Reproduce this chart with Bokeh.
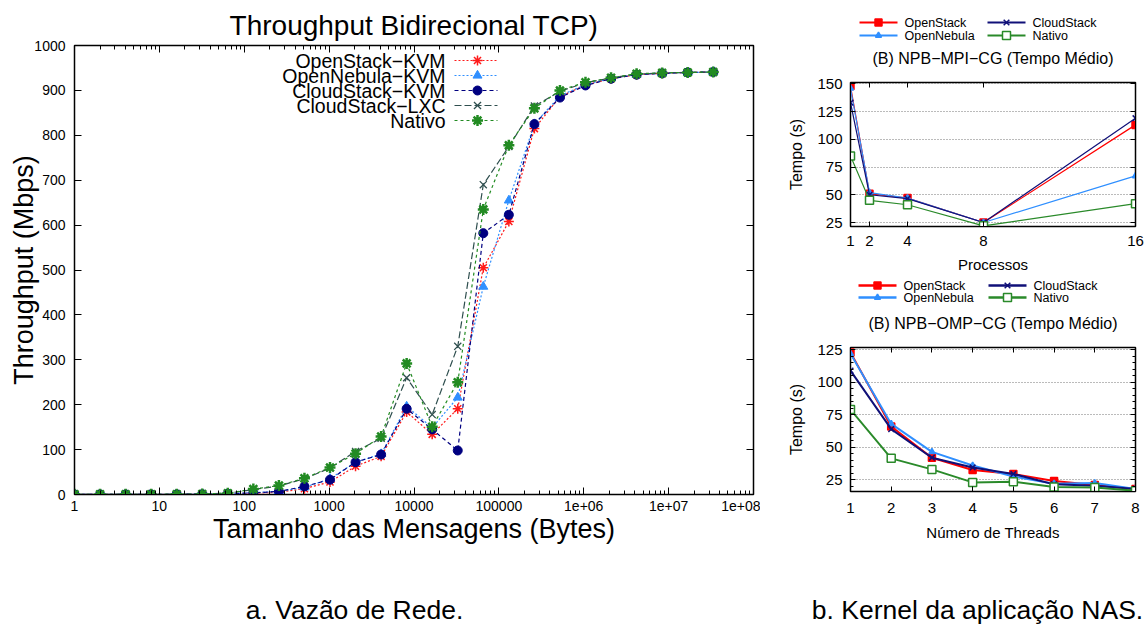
from bokeh.plotting import figure
from bokeh.models import (FixedTicker, LogAxis, LinearAxis, Range1d, LinearScale, Label)
from bokeh.layouts import row, column
from bokeh.embed import file_html
from bokeh.resources import INLINE
from bokeh.core.properties import value

FONT = "Liberation Sans"

# ---------------- data: (a) throughput ----------------
msg_sizes = [1, 2, 4, 8, 16, 32, 64, 128, 256, 512, 1024, 2048, 4096, 8192, 16384,
             32768, 65536, 131072, 262144, 524288, 1048576, 2097152, 4194304,
             8388608, 16777216, 33554432]
openstack_kvm = [0.3, 0.3, 0.3, 0.4, 0.5, 0.8, 1.5, 3, 5, 13, 28, 63, 85, 184, 134,
                 191, 505, 608, 815, 886, 912, 926, 935, 938, 940, 941]
opennebula_kvm = [0.3, 0.3, 0.3, 0.4, 0.5, 0.8, 1.8, 4, 7, 16, 35, 72, 90, 196, 149,
                  216, 463, 655, 825, 888, 913, 927, 935, 938, 940, 941]
cloudstack_kvm = [0.3, 0.3, 0.3, 0.4, 0.5, 0.8, 1.8, 3.5, 7, 18, 33, 72, 89, 191, 145,
                  98, 582, 623, 825, 884, 911, 926, 935, 938, 940, 941]
cloudstack_lxc = [0.4, 0.4, 0.4, 0.5, 0.7, 1.2, 3, 11, 19, 35, 59, 96, 125, 260, 178,
                  330, 690, 775, 865, 898, 917, 928, 936, 939, 940, 941]
nativo_tp = [0.4, 0.4, 0.4, 0.5, 0.7, 1.2, 3, 12, 20, 36, 60, 91, 129, 292, 151,
             250, 635, 778, 860, 900, 918, 928, 937, 939, 940, 941]
tp_names = ["OpenStack−KVM", "OpenNebula−KVM", "CloudStack−KVM", "CloudStack−LXC", "Nativo"]
x_tick_values = [1, 10, 100, 1000, 10000, 100000, 1000000, 10000000, 100000000]
x_tick_labels = ["1", "10", "100", "1000", "10000", "100000", "1e+06", "1e+07", "1e+08"]
x_minor_values = [m * d for d in x_tick_values[:-1] for m in range(2, 10)]
y_tick_values_tp = [0, 100, 200, 300, 400, 500, 600, 700, 800, 900, 1000]

# ---------------- data: (b) NAS kernel ----------------
processes = [1, 2, 4, 8, 16]
mpi_openstack = [148, 51, 47, 25, 113]
mpi_opennebula = [146, 52, 47, 25, 67]
mpi_cloudstack = [133, 50, 46.5, 25, 119]
mpi_nativo = [85, 45, 41, 22, 42]

threads = [1, 2, 3, 4, 5, 6, 7, 8]
omp_openstack = [123, 66, 42, 32.5, 29.5, 24, 21, 18]
omp_opennebula = [122, 68, 46.5, 36, 27.5, 22, 22.5, 18]
omp_cloudstack = [109, 64, 42, 34.5, 29.5, 21.5, 20.5, 18]
omp_nativo = [79, 41.5, 33, 23, 23.5, 19.5, 19, 16.5]
nas_names = ["OpenStack", "OpenNebula", "CloudStack", "Nativo"]
nas_titles = ["(B) NPB−MPI−CG (Tempo Médio)", "(B) NPB−OMP−CG (Tempo Médio)"]

captions = ["a. Vazão de Rede.", "b. Kernel da aplicação NAS."]

RB_LEFT, RB_RIGHT, RB_W = 90, 11, 386   # right-column figure borders / width
RB_FRAME = RB_W - RB_LEFT - RB_RIGHT


def style_axis(ax, size, tick_in=6, minor_in=3):
    ax.major_label_text_font = FONT
    ax.major_label_text_font_size = size
    ax.major_label_text_color = "black"
    ax.axis_line_color = "black"
    ax.axis_line_width = 1
    ax.major_tick_in = tick_in
    ax.major_tick_out = 0
    ax.minor_tick_in = minor_in
    ax.minor_tick_out = 0
    ax.major_tick_line_color = "black"
    ax.minor_tick_line_color = "black"
    ax.axis_label_text_font = FONT
    ax.axis_label_text_font_style = "normal"
    ax.axis_label_text_color = "black"


def mirror(p, side, ax, tick_in=6, minor_in=3):
    style_axis(ax, "0px", tick_in, minor_in)
    ax.major_label_standoff = 0
    ax.major_label_text_alpha = 0
    p.add_layout(ax, side)


# ================= left figure =================
p1 = figure(width=760, height=548, x_axis_type="log",
            x_range=Range1d(1, 1e8), y_range=Range1d(0, 1000),
            output_backend="svg", toolbar_location=None,
            min_border_left=74, min_border_right=7, min_border_top=45,
            min_border_bottom=54)
p1.title.text = "Throughput Bidirecional TCP)"
p1.title.align = "center"
p1.title.text_font = FONT
p1.title.text_font_size = "28px"
p1.title.text_font_style = "normal"
p1.title.text_color = "black"
p1.title.standoff = 10
p1.xgrid.visible = False
p1.ygrid.visible = False
p1.outline_line_color = "black"
p1.outline_line_width = 1.5
p1.background_fill_color = "white"

p1.xaxis.ticker = FixedTicker(ticks=x_tick_values, minor_ticks=x_minor_values)
p1.yaxis.ticker = FixedTicker(ticks=y_tick_values_tp)
style_axis(p1.xaxis[0], "14px", 7, 4)
style_axis(p1.yaxis[0], "14px", 7, 4)
p1.xaxis.major_label_overrides = {v: l for v, l in zip(x_tick_values, x_tick_labels)}
p1.xaxis.axis_label = "Tamanho das Mensagens (Bytes)"
p1.yaxis.axis_label = "Throughput (Mbps)"
p1.xaxis.axis_label_text_font_size = "27px"
p1.yaxis.axis_label_text_font_size = "27px"
p1.xaxis.major_label_standoff = 6
p1.yaxis.major_label_standoff = 9
p1.xaxis.axis_label_standoff = 0
p1.yaxis.axis_label_standoff = -8
mirror(p1, "above", LogAxis(ticker=FixedTicker(ticks=x_tick_values, minor_ticks=x_minor_values)), 7, 4)
mirror(p1, "right", LinearAxis(ticker=FixedTicker(ticks=y_tick_values_tp)), 7, 4)

tp_series = [openstack_kvm, opennebula_kvm, cloudstack_kvm, cloudstack_lxc, nativo_tp]
tp_styles = [
    dict(color="#ff1a1a", dash="2 2", marker="asterisk", size=10, mlw=1.5),
    dict(color="#2f8fff", dash="2 2", marker="triangle", size=9, mlw=1),
    dict(color="#000080", dash="4 3", marker="circle", size=9, mlw=1),
    dict(color="#2f4f4f", dash="7 3", marker="x", size=10, mlw=1.3),
    dict(color="#228b22", dash="3 3", marker="asterisk", size=11, mlw=2.5),
]
for ys, st in zip(tp_series, tp_styles):
    p1.line(msg_sizes, ys, line_color=st["color"], line_dash=st["dash"], line_width=1.2)
    p1.scatter(msg_sizes, ys, marker=st["marker"], size=st["size"],
               line_color=st["color"], fill_color=st["color"], line_width=st["mlw"])

# gnuplot-style key (label left, sample right) in frame-pixel coordinates
p1.extra_x_ranges = {"leg": Range1d(0, 679)}
p1.extra_y_ranges = {"leg": Range1d(0, 449)}
p1.extra_x_scales = {"leg": LinearScale()}
p1.extra_y_scales = {"leg": LinearScale()}
key_text_x = 371
key_x0, key_x1, key_xm = 380, 423, 403
for i, (name, st) in enumerate(zip(tp_names, tp_styles)):
    ky = 434 - 15 * i
    p1.text(x=[key_text_x], y=[ky], text=[name], text_align="right",
            text_baseline="middle", text_font=value(FONT), text_font_size="19.5px",
            text_color="black", x_range_name="leg", y_range_name="leg")
    p1.line(x=[key_x0, key_x1], y=[ky, ky], line_color=st["color"], line_dash=st["dash"],
            line_width=1.2, x_range_name="leg", y_range_name="leg")
    p1.scatter(x=[key_xm], y=[ky], marker=st["marker"], size=st["size"],
               line_color=st["color"], fill_color=st["color"], line_width=st["mlw"],
               x_range_name="leg", y_range_name="leg")


# ================= right figures =================
nas_styles = [
    dict(color="#ff0000", marker="square", fill="#ff0000", size=7),
    dict(color="#2f8fff", marker="triangle", fill="#2f8fff", size=6),
    dict(color="#101078", marker="x", fill="#101078", size=8),
    dict(color="#2a8a2a", marker="square", fill="white", size=8),
]


def nas_header(height, title, col_x, row_y, title_y, lw):
    """Strip above a NAS chart: two-column key and the chart title (frame-pixel units)."""
    f = figure(width=RB_W, height=height, x_range=Range1d(0, RB_FRAME),
               y_range=Range1d(0, height), output_backend="svg", toolbar_location=None,
               min_border_left=RB_LEFT, min_border_right=RB_RIGHT, min_border_top=0,
               min_border_bottom=0, x_axis_location=None, y_axis_location=None)
    f.xgrid.visible = False
    f.ygrid.visible = False
    f.outline_line_color = None
    slots = [(0, 0), (0, 1), (1, 0), (1, 1)]  # (column, row)
    for name, st, (c, r) in zip(nas_names, nas_styles, slots):
        x0 = col_x[c]
        y = row_y[r]
        f.line(x=[x0, x0 + 38], y=[y, y], line_color=st["color"], line_width=lw)
        f.scatter(x=[x0 + 19], y=[y], marker=st["marker"], size=st["size"],
                  line_color=st["color"], fill_color=st["fill"], line_width=1.5)
        f.text(x=[x0 + 45], y=[y], text=[name], text_align="left", text_baseline="middle",
               text_font=value(FONT), text_font_size="12.5px", text_color="black")
    f.text(x=[RB_FRAME / 2], y=[title_y], text=[title], text_align="center",
           text_baseline="middle", text_font=value(FONT), text_font_size="16px",
           text_color="black")
    return f


def nas_figure(xs, series, x_ticks, y_ticks, y_range, height, top, bottom,
               xlabel, lw, minor_y, xl_standoff, xt_standoff):
    p = figure(width=RB_W, height=height, x_range=Range1d(xs[0], xs[-1]),
               y_range=Range1d(*y_range), output_backend="svg", toolbar_location=None,
               min_border_left=RB_LEFT, min_border_right=RB_RIGHT, min_border_top=top,
               min_border_bottom=bottom)
    p.xgrid.visible = False
    p.ygrid.ticker = FixedTicker(ticks=y_ticks)
    p.ygrid.grid_line_color = "#777777"
    p.ygrid.grid_line_dash = "1 2"
    p.ygrid.grid_line_width = 1
    p.outline_line_color = "black"
    p.outline_line_width = 1.5
    p.xaxis.ticker = FixedTicker(ticks=x_ticks)
    p.yaxis.ticker = FixedTicker(ticks=y_ticks, minor_ticks=minor_y)
    style_axis(p.xaxis[0], "15px", 5, 3)
    style_axis(p.yaxis[0], "15px", 5, 3)
    p.xaxis.axis_label = xlabel
    p.yaxis.axis_label = "Tempo (s)"
    p.xaxis.axis_label_text_font_size = "15px"
    p.yaxis.axis_label_text_font_size = "16px"
    p.xaxis.major_label_standoff = xt_standoff
    p.yaxis.major_label_standoff = 8
    p.xaxis.axis_label_standoff = xl_standoff
    p.yaxis.axis_label_standoff = 9
    mirror(p, "above", LinearAxis(ticker=FixedTicker(ticks=x_ticks)), 5, 3)
    mirror(p, "right", LinearAxis(ticker=FixedTicker(ticks=y_ticks, minor_ticks=minor_y)), 5, 3)

    for ys, st in zip(series, nas_styles):
        p.line(xs, ys, line_color=st["color"], line_width=lw)
        p.scatter(xs, ys, marker=st["marker"], size=st["size"], line_color=st["color"],
                  fill_color=st["fill"], line_width=1.5)
    return p


h2 = nas_header(70, nas_titles[0], [9, 137], [48, 35], 12, 2)
p2 = nas_figure(processes, [mpi_openstack, mpi_opennebula, mpi_cloudstack, mpi_nativo],
                processes, [25, 50, 75, 100, 125, 150], (21.4, 151.2), 205, 12, 49,
                "Processos", 1.2, [], 7, 9)
h3 = nas_header(60, nas_titles[1], [8, 138], [50, 38], 12, 2.5)
p3 = nas_figure(threads, [omp_openstack, omp_opennebula, omp_cloudstack, omp_nativo],
                threads, [25, 50, 75, 100, 125], (16, 126.8), 213, 12, 57,
                "Número de Threads", 2, [20, 30, 35, 40, 45, 55, 60, 65, 70, 80, 85, 90, 95,
                                         105, 110, 115, 120], 8, 11)

# ================= captions =================
pc = figure(width=1146, height=76, x_range=Range1d(0, 1146), y_range=Range1d(0, 76),
            output_backend="svg", toolbar_location=None, min_border=0,
            x_axis_location=None, y_axis_location=None)
pc.xgrid.visible = False
pc.ygrid.visible = False
pc.outline_line_color = None
for txt, cx in zip(captions, [354, 977]):
    pc.add_layout(Label(x=cx, y=15, text=txt, text_align="center", text_baseline="middle",
                        text_font=FONT, text_font_size="26.5px", text_color="black"))

layout = column(row(p1, column(h2, p2, h3, p3)), pc)
open("out.html", "w").write(file_html(layout, INLINE))
